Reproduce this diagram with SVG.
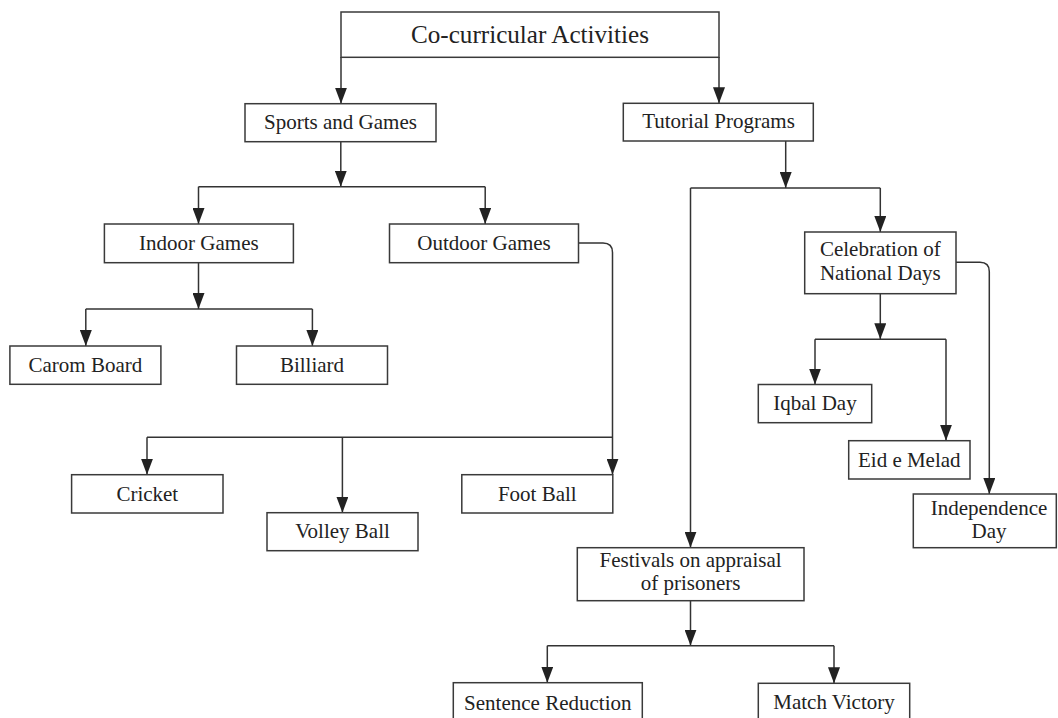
<svg xmlns="http://www.w3.org/2000/svg" width="1058" height="718" viewBox="0 0 1058 718">
<style>
.box{fill:#fff;stroke:#3a3a3a;stroke-width:1.5}
.t{font-family:"Liberation Serif","Times New Roman",serif;font-size:21px;fill:#222;text-anchor:middle}
.title{font-size:26px}
.c{fill:none;stroke:#333;stroke-width:1.5}
.a{fill:none;stroke:#333;stroke-width:1.5;marker-end:url(#arr)}
</style>
<defs>
<marker id="arr" viewBox="0 0 16 12" refX="16" refY="6" markerWidth="16" markerHeight="12" markerUnits="userSpaceOnUse" orient="auto">
<path d="M0,0 L16,6 L0,12 z" fill="#222"/>
</marker>
</defs>
<rect width="1058" height="718" fill="#fff"/>
<g id="connectors">
<path class="a" d="M341,57 V103.7"/>
<path class="a" d="M719,57 V103.3"/>
<path class="a" d="M340.8,141.7 V186.7"/>
<path class="c" d="M198.5,186.7 H485.2"/>
<path class="a" d="M198.5,186.7 V224"/>
<path class="a" d="M485.2,186.7 V224"/>
<path class="a" d="M198.5,262.7 V309"/>
<path class="c" d="M85.8,309 H312.4"/>
<path class="a" d="M85.8,309 V346"/>
<path class="a" d="M312.4,309 V346"/>
<path class="a" d="M578.5,243 H603 Q612.5,243 612.5,252.5 V474.7"/>
<path class="c" d="M147,437.3 H612.5"/>
<path class="a" d="M147,437.3 V474.7"/>
<path class="a" d="M342.4,437.3 V512.7"/>
<path class="a" d="M785.7,141 V188"/>
<path class="c" d="M690.5,188 H880.3"/>
<path class="a" d="M880.3,188 V232"/>
<path class="a" d="M690.5,188 V547.7"/>
<path class="a" d="M880.3,293.7 V339.3"/>
<path class="c" d="M815,339.3 H946"/>
<path class="a" d="M815,339.3 V384.5"/>
<path class="a" d="M946,339.3 V440.7"/>
<path class="a" d="M956,262.3 H980 Q989.3,262.3 989.3,271.6 V494"/>
<path class="a" d="M690.5,600.7 V645.7"/>
<path class="c" d="M547.3,645.7 H834"/>
<path class="a" d="M547.3,645.7 V682.7"/>
<path class="a" d="M834,645.7 V683.3"/>
</g>
<g id="n-top"><rect class="box" x="341" y="12" width="378" height="45.3"/><text class="t title" x="530" y="43.3" textLength="238" lengthAdjust="spacingAndGlyphs">Co-curricular Activities</text></g>
<g id="n-sports"><rect class="box" x="245" y="103.7" width="191" height="38"/><text class="t" x="340.5" y="128.8">Sports and Games</text></g>
<g id="n-tutorial"><rect class="box" x="623.3" y="103.3" width="190" height="37.7"/><text class="t" x="718.5" y="128.3">Tutorial Programs</text></g>
<g id="n-indoor"><rect class="box" x="104.4" y="224" width="189" height="38.7"/><text class="t" x="198.9" y="250">Indoor Games</text></g>
<g id="n-outdoor"><rect class="box" x="389.5" y="224" width="189" height="38.7"/><text class="t" x="484" y="250">Outdoor Games</text></g>
<g id="n-carom"><rect class="box" x="9.9" y="346" width="151" height="38.3"/><text class="t" x="85.4" y="371.8">Carom Board</text></g>
<g id="n-billiard"><rect class="box" x="236.5" y="346" width="151" height="38.3"/><text class="t" x="312" y="371.8">Billiard</text></g>
<g id="n-cricket"><rect class="box" x="71.6" y="474.7" width="151.4" height="38.3"/><text class="t" x="147.3" y="500.5">Cricket</text></g>
<g id="n-volley"><rect class="box" x="267" y="512.7" width="151" height="38"/><text class="t" x="342.5" y="538.3">Volley Ball</text></g>
<g id="n-football"><rect class="box" x="461.8" y="474.7" width="151" height="38.3"/><text class="t" x="537.3" y="500.5">Foot Ball</text></g>
<g id="n-celebration"><rect class="box" x="804.7" y="232" width="151.3" height="61.7"/><text class="t" x="880.3" y="256">Celebration of</text><text class="t" x="880.3" y="280">National Days</text></g>
<g id="n-iqbal"><rect class="box" x="758.3" y="384.5" width="113.4" height="38.2"/><text class="t" x="815" y="409.5">Iqbal Day</text></g>
<g id="n-eid"><rect class="box" x="848.7" y="440.7" width="121.3" height="38.3"/><text class="t" x="909.3" y="467">Eid e Melad</text></g>
<g id="n-independence"><rect class="box" x="913.3" y="494" width="143" height="53.7"/><text class="t" x="989" y="515">Independence</text><text class="t" x="989" y="537.5">Day</text></g>
<g id="n-festivals"><rect class="box" x="577.3" y="547.7" width="226.7" height="53"/><text class="t" x="690.6" y="566.7">Festivals on appraisal</text><text class="t" x="690.6" y="590">of prisoners</text></g>
<g id="n-sentence"><rect class="box" x="453.3" y="682.7" width="189" height="50"/><text class="t" x="547.8" y="710">Sentence Reduction</text></g>
<g id="n-match"><rect class="box" x="758.3" y="683.3" width="151.4" height="50"/><text class="t" x="834" y="708.5">Match Victory</text></g>
</svg>
